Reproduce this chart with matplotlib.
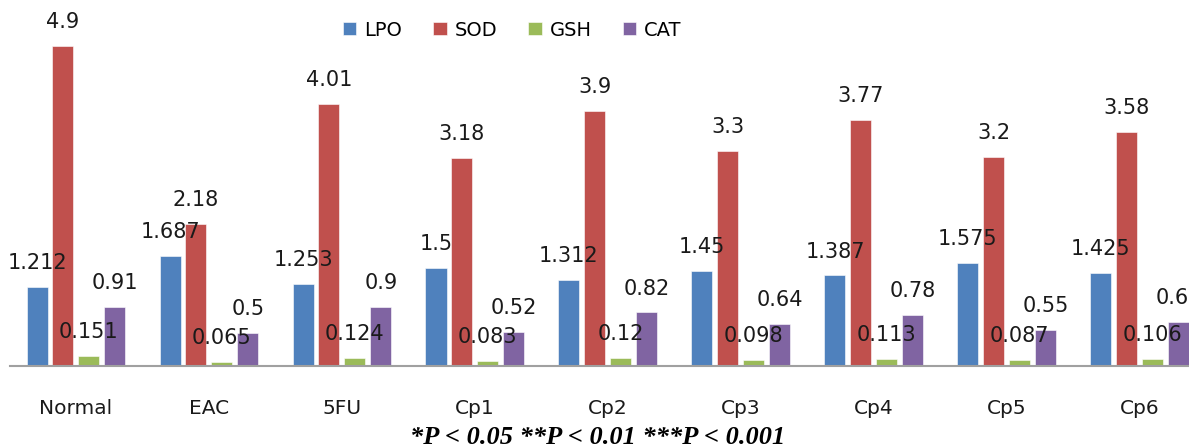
import numpy as np
import matplotlib.pyplot as plt

groups = ["Normal", "EAC", "5FU", "Cp1", "Cp2", "Cp3", "Cp4", "Cp5", "Cp6"]
lpo = [1.212, 1.687, 1.253, 1.5, 1.312, 1.45, 1.387, 1.575, 1.425]
sod = [4.9, 2.18, 4.01, 3.18, 3.9, 3.3, 3.77, 3.2, 3.58]
gsh = [0.151, 0.065, 0.124, 0.083, 0.12, 0.098, 0.113, 0.087, 0.106]
cat = [0.91, 0.5, 0.9, 0.52, 0.82, 0.64, 0.78, 0.55, 0.68]
labels = ["LPO", "SOD", "GSH", "CAT"]
series = [lpo, sod, gsh, cat]
colors = ["#4F81BD", "#C0504D", "#9BBB59", "#8064A2"]

fig = plt.figure(figsize=(11.89, 4.48), dpi=100)
ax = fig.add_axes([10 / 1189, 82 / 448, 1179 / 1189, 366 / 448])

x = np.arange(len(groups))
step = 0.195
width = 0.158
for i, (vals, lab, col) in enumerate(zip(series, labels, colors)):
    pos = x + (i - 1.5) * step
    ax.bar(pos, vals, width, color=col, label=lab,
           edgecolor="white", linewidth=0.4)
    for p, v in zip(pos, vals):
        # value label above each bar
        ax.annotate(f"{v:g}", (p, v), xytext=(0, 10), textcoords="offset points",
                    ha="center", va="bottom", fontsize=15, color="#1a1a1a",
                    annotation_clip=False)

ax.set_xlim(-0.496, 8.37)
ax.set_ylim(0, 366 / 65.3)
ax.set_xticks(x)
ax.set_xticklabels(groups, fontsize=14.5, color="#1a1a1a")
ax.tick_params(axis="x", length=0, pad=24)
ax.set_yticks([])
for s in ["top", "right", "left"]:
    ax.spines[s].set_visible(False)
ax.spines["bottom"].set_color("#A0A0A0")
ax.spines["bottom"].set_linewidth(1.5)

fig.legend(loc="center", bbox_to_anchor=(512 / 1189, 1 - 30 / 448), ncol=4,
           frameon=False, fontsize=14, handlelength=0.7, handleheight=0.7,
           handletextpad=0.4, columnspacing=1.6)

fig.text(598 / 1189, 1 - 437 / 448, "*P < 0.05 **P < 0.01 ***P < 0.001",
         ha="center", va="center", fontsize=19, fontweight="bold",
         fontstyle="italic", family="Liberation Serif")

plt.savefig("out.png", dpi=100)
plt.close()
